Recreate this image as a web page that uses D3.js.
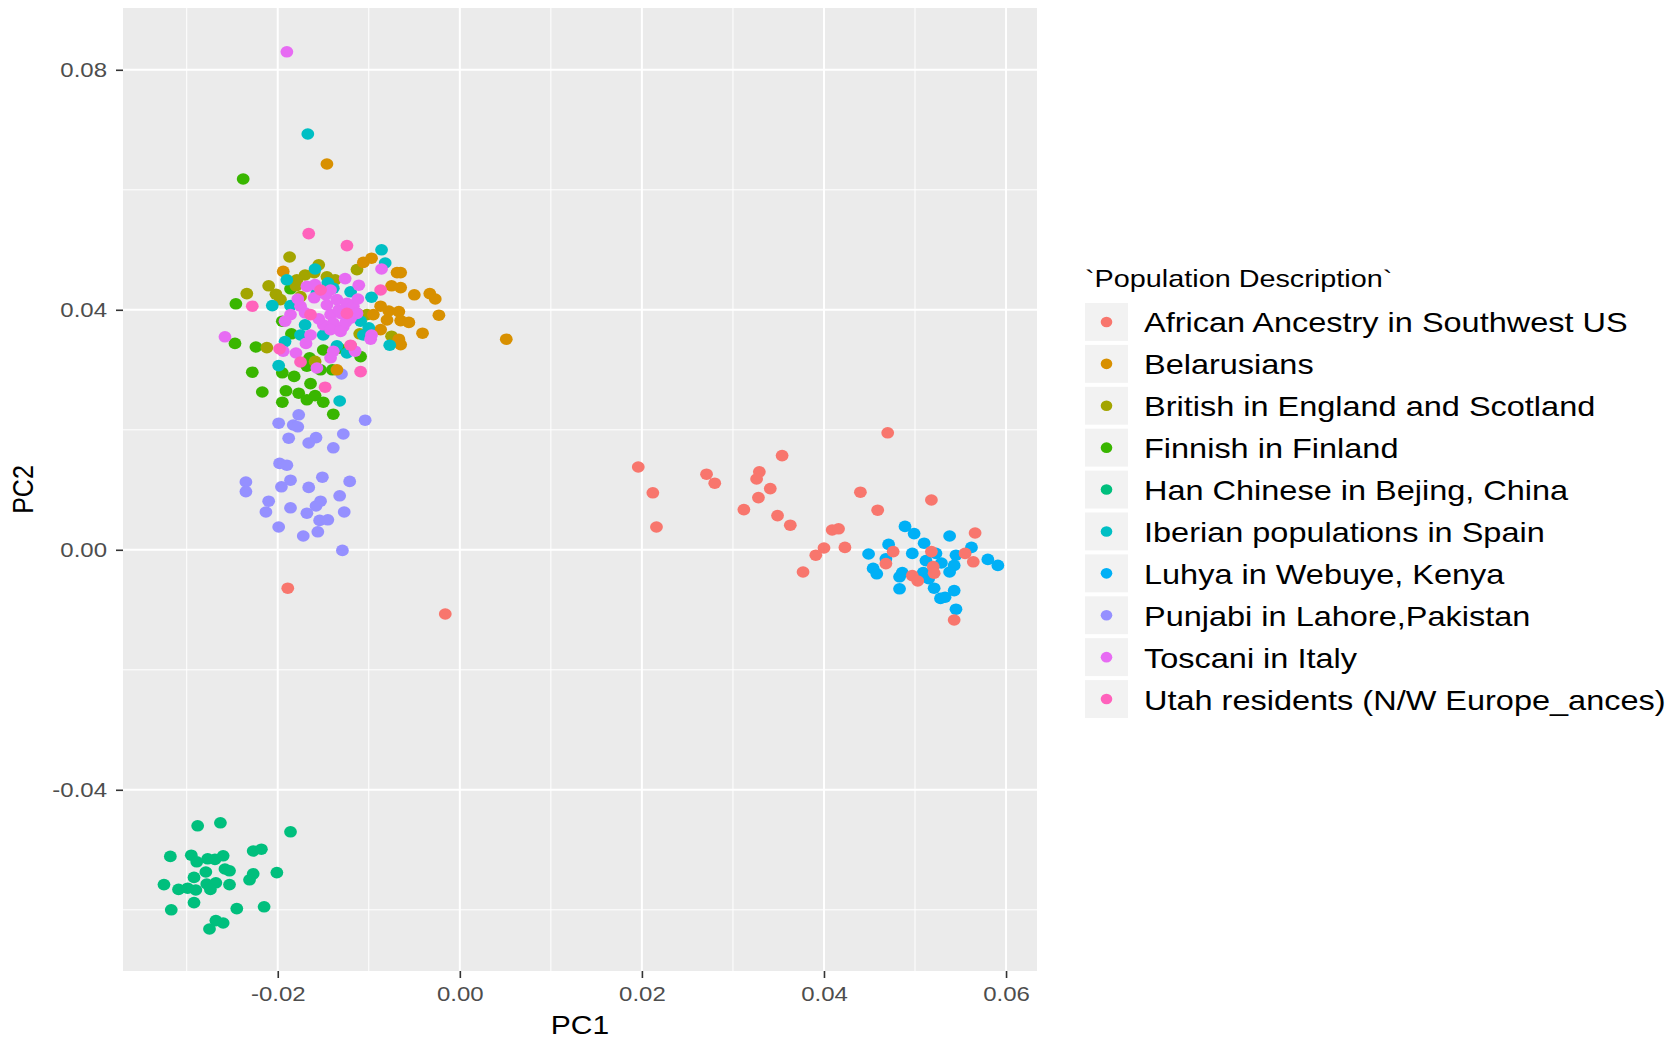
<!DOCTYPE html>
<html>
<head>
<meta charset="utf-8">
<script src="https://cdn.jsdelivr.net/npm/d3@7"></script>
<style>
body { margin: 0; background: #fff; }
text { font-family: "Liberation Sans", Arial, sans-serif; }
</style>
</head>
<body>
<div id="chart"></div>
<script>
// legend order
var populations = [
  "African Ancestry in Southwest US",
  "Belarusians",
  "British in England and Scotland",
  "Finnish in Finland",
  "Han Chinese in Bejing, China",
  "Iberian populations in Spain",
  "Luhya in Webuye, Kenya",
  "Punjabi in Lahore,Pakistan",
  "Toscani in Italy",
  "Utah residents (N/W Europe_ances)"
];
var colors = ["#F8766D", "#D89000", "#A3A500", "#39B600", "#00BF7D",
              "#00BFC4", "#00B0F6", "#9590FF", "#E76BF3", "#FF62BC"];

var xTicks = [-0.02, 0.00, 0.02, 0.04, 0.06];
var xMinor = [-0.03, -0.01, 0.01, 0.03, 0.05];
var yTicks = [-0.04, 0.00, 0.04, 0.08];
var yMinor = [-0.06, -0.02, 0.02, 0.06];

// [PC1, PC2] per sample
var african = [
  [0.0196, 0.0138], [0.0212, 0.0095], [0.0216, 0.0038], [0.0271, 0.0126], [0.0280, 0.0111],
  [0.0329, 0.0130], [0.0326, 0.0118], [0.0354, 0.0157], [0.0341, 0.0102], [0.0328, 0.0087],
  [0.0312, 0.0067], [0.0349, 0.0057], [0.0363, 0.0041], [0.0409, 0.0033], [0.0416, 0.0035],
  [0.0400, 0.0003], [0.0391, -0.0009], [0.0423, 0.0004], [0.0377, -0.0037], [0.0440, 0.0096],
  [0.0459, 0.0066], [0.0470, 0.0195], [0.0518, 0.0083], [0.0566, 0.0028], [0.0476, -0.0003],
  [0.0468, -0.0023], [0.0518, -0.0003], [0.0520, -0.0028], [0.0521, -0.0039], [0.0497, -0.0043],
  [0.0503, -0.0052], [0.0555, -0.0006], [0.0564, -0.0020], [0.0543, -0.0117], [-0.0016, -0.0107],
  [-0.0189, -0.0064]
];
var belarusians = [
  [-0.0146, 0.0643], [-0.0194, 0.0464], [-0.0106, 0.0479], [-0.0097, 0.0486], [-0.0069, 0.0462],
  [-0.0065, 0.0462], [-0.0075, 0.0440], [-0.0065, 0.0437], [-0.0050, 0.0425], [-0.0033, 0.0427],
  [-0.0027, 0.0418], [-0.0087, 0.0406], [-0.0078, 0.0398], [-0.0067, 0.0397], [-0.0023, 0.0391],
  [-0.0080, 0.0383], [-0.0065, 0.0382], [-0.0056, 0.0379], [-0.0087, 0.0367], [-0.0041, 0.0361],
  [-0.0067, 0.0351], [-0.0065, 0.0342], [-0.0135, 0.0300], [-0.0095, 0.0392], [0.0051, 0.0351]
];
var british = [
  [-0.0187, 0.0488], [-0.0113, 0.0467], [-0.0170, 0.0458], [-0.0179, 0.0450], [-0.0146, 0.0455],
  [-0.0137, 0.0450], [-0.0202, 0.0426], [-0.0197, 0.0417], [-0.0212, 0.0337], [-0.0102, 0.0392],
  [-0.0075, 0.0356], [-0.0159, 0.0314], [-0.0175, 0.0422], [-0.0113, 0.0394], [-0.0234, 0.0427],
  [-0.0160, 0.0462], [-0.0180, 0.0440], [-0.0120, 0.0340], [-0.0110, 0.0360], [-0.0210, 0.0440],
  [-0.0155, 0.0475]
];
var finnish = [
  [-0.0238, 0.0618], [-0.0246, 0.0410], [-0.0247, 0.0344], [-0.0224, 0.0338], [-0.0228, 0.0296],
  [-0.0217, 0.0263], [-0.0195, 0.0246], [-0.0191, 0.0265], [-0.0177, 0.0261], [-0.0168, 0.0250],
  [-0.0159, 0.0257], [-0.0150, 0.0246], [-0.0164, 0.0277], [-0.0182, 0.0289], [-0.0195, 0.0295],
  [-0.0139, 0.0226], [-0.0186, 0.0435], [-0.0195, 0.0381], [-0.0150, 0.0333], [-0.0109, 0.0322],
  [-0.0133, 0.0336], [-0.0168, 0.0306], [-0.0153, 0.0300], [-0.0185, 0.0360], [-0.0165, 0.0320],
  [-0.0140, 0.0300]
];
var han = [
  [-0.0288, -0.0460], [-0.0263, -0.0455], [-0.0186, -0.0470], [-0.0318, -0.0511], [-0.0295, -0.0509],
  [-0.0289, -0.0520], [-0.0277, -0.0515], [-0.0269, -0.0516], [-0.0260, -0.0510], [-0.0227, -0.0502],
  [-0.0218, -0.0499], [-0.0279, -0.0537], [-0.0258, -0.0532], [-0.0253, -0.0535], [-0.0227, -0.0540],
  [-0.0231, -0.0550], [-0.0201, -0.0538], [-0.0325, -0.0558], [-0.0292, -0.0546], [-0.0309, -0.0566],
  [-0.0299, -0.0564], [-0.0290, -0.0567], [-0.0278, -0.0557], [-0.0268, -0.0555], [-0.0274, -0.0566],
  [-0.0253, -0.0558], [-0.0317, -0.0600], [-0.0292, -0.0588], [-0.0245, -0.0598], [-0.0215, -0.0595],
  [-0.0268, -0.0618], [-0.0260, -0.0622], [-0.0275, -0.0632]
];
var iberian = [
  [-0.0167, 0.0693], [-0.0086, 0.0500], [-0.0082, 0.0478], [-0.0159, 0.0468], [-0.0206, 0.0407],
  [-0.0186, 0.0407], [-0.0097, 0.0421], [-0.0192, 0.0347], [-0.0199, 0.0307], [-0.0077, 0.0341],
  [-0.0132, 0.0248], [-0.0175, 0.0358], [-0.0150, 0.0358], [-0.0109, 0.0381], [-0.0106, 0.0358],
  [-0.0157, 0.0428], [-0.0139, 0.0436], [-0.0124, 0.0328], [-0.0145, 0.0445], [-0.0120, 0.0430],
  [-0.0170, 0.0375], [-0.0100, 0.0370], [-0.0135, 0.0340], [-0.0190, 0.0450]
];
var luhya = [
  [0.0489, 0.0039], [0.0499, 0.0027], [0.0510, 0.0011], [0.0538, 0.0023], [0.0471, 0.0009],
  [0.0449, -0.0007], [0.0497, -0.0006], [0.0523, -0.0006], [0.0545, -0.0009], [0.0562, 0.0004],
  [0.0580, -0.0016], [0.0591, -0.0026], [0.0468, -0.0015], [0.0454, -0.0031], [0.0458, -0.0040],
  [0.0512, -0.0018], [0.0529, -0.0022], [0.0543, -0.0026], [0.0538, -0.0037], [0.0486, -0.0038],
  [0.0483, -0.0045], [0.0509, -0.0038], [0.0515, -0.0048], [0.0483, -0.0065], [0.0521, -0.0064],
  [0.0543, -0.0068], [0.0528, -0.0081], [0.0533, -0.0079], [0.0545, -0.0099]
];
var punjabi = [
  [-0.0177, 0.0225], [-0.0199, 0.0211], [-0.0183, 0.0208], [-0.0178, 0.0205], [-0.0104, 0.0216],
  [-0.0188, 0.0186], [-0.0158, 0.0187], [-0.0166, 0.0178], [-0.0128, 0.0193], [-0.0139, 0.0170],
  [-0.0198, 0.0144], [-0.0190, 0.0141], [-0.0235, 0.0113], [-0.0235, 0.0097], [-0.0186, 0.0116],
  [-0.0196, 0.0105], [-0.0166, 0.0104], [-0.0151, 0.0121], [-0.0121, 0.0114], [-0.0210, 0.0081],
  [-0.0213, 0.0063], [-0.0186, 0.0070], [-0.0168, 0.0061], [-0.0158, 0.0073], [-0.0153, 0.0081],
  [-0.0132, 0.0090], [-0.0127, 0.0063], [-0.0199, 0.0038], [-0.0172, 0.0023], [-0.0156, 0.0030],
  [-0.0154, 0.0049], [-0.0145, 0.0050], [-0.0129, -0.0001], [-0.0130, 0.0293]
];
var toscani = [
  [-0.0190, 0.0830], [-0.0086, 0.0468], [-0.0258, 0.0355], [-0.0126, 0.0452], [-0.0111, 0.0441],
  [-0.0168, 0.0439], [-0.0159, 0.0442], [-0.0142, 0.0433], [-0.0175, 0.0406], [-0.0186, 0.0392],
  [-0.0192, 0.0381], [-0.0146, 0.0408], [-0.0135, 0.0417], [-0.0124, 0.0411], [-0.0117, 0.0406],
  [-0.0142, 0.0392], [-0.0131, 0.0394], [-0.0120, 0.0386], [-0.0113, 0.0394], [-0.0150, 0.0375],
  [-0.0139, 0.0378], [-0.0128, 0.0372], [-0.0142, 0.0367], [-0.0131, 0.0364], [-0.0097, 0.0358],
  [-0.0098, 0.0351], [-0.0164, 0.0358], [-0.0169, 0.0344], [-0.0194, 0.0331], [-0.0180, 0.0328],
  [-0.0139, 0.0331], [-0.0142, 0.0320], [-0.0115, 0.0331], [-0.0157, 0.0303], [-0.0160, 0.0420],
  [-0.0147, 0.0425], [-0.0133, 0.0400], [-0.0155, 0.0385], [-0.0125, 0.0380], [-0.0112, 0.0418],
  [-0.0170, 0.0395], [-0.0178, 0.0418]
];
var utah = [
  [-0.0166, 0.0527], [-0.0124, 0.0507], [-0.0228, 0.0406], [-0.0087, 0.0433], [-0.0109, 0.0297],
  [-0.0148, 0.0271], [-0.0175, 0.0313], [-0.0198, 0.0335], [-0.0120, 0.0341], [-0.0164, 0.0392],
  [-0.0124, 0.0394], [-0.0153, 0.0433]
];

var seriesData = [african, belarusians, british, finnish, han, iberian, luhya, punjabi, toscani, utah];
// order in which the groups were plotted (later on top)
var drawOrder = [6, 4, 7, 3, 2, 1, 5, 0, 8, 9];

var W = 1680, H = 1039;
var panel = { left: 123, right: 1037, top: 8, bottom: 971 };
var stretch = 1.2;   // glyphs in the source are slightly wide

var x = d3.scaleLinear().domain([-0.0370, 0.0634]).range([panel.left, panel.right]);
var y = d3.scaleLinear().domain([-0.0702, 0.0903]).range([panel.bottom, panel.top]);

var svg = d3.select("#chart").append("svg")
    .attr("width", W)
    .attr("height", H);

svg.append("rect")
    .attr("x", panel.left)
    .attr("y", panel.top)
    .attr("width", panel.right - panel.left)
    .attr("height", panel.bottom - panel.top)
    .attr("fill", "#EBEBEB");

var grid = svg.append("g");
grid.selectAll(".vminor").data(xMinor).enter().append("line")
    .attr("x1", d => x(d)).attr("x2", d => x(d))
    .attr("y1", panel.top).attr("y2", panel.bottom)
    .attr("stroke", "#fff").attr("stroke-width", 1);
grid.selectAll(".hminor").data(yMinor).enter().append("line")
    .attr("y1", d => y(d)).attr("y2", d => y(d))
    .attr("x1", panel.left).attr("x2", panel.right)
    .attr("stroke", "#fff").attr("stroke-width", 1);
grid.selectAll(".vmajor").data(xTicks).enter().append("line")
    .attr("x1", d => x(d)).attr("x2", d => x(d))
    .attr("y1", panel.top).attr("y2", panel.bottom)
    .attr("stroke", "#fff").attr("stroke-width", 2);
grid.selectAll(".hmajor").data(yTicks).enter().append("line")
    .attr("y1", d => y(d)).attr("y2", d => y(d))
    .attr("x1", panel.left).attr("x2", panel.right)
    .attr("stroke", "#fff").attr("stroke-width", 2);

// points
drawOrder.forEach(function(i) {
  svg.append("g").selectAll("ellipse")
    .data(seriesData[i])
    .enter()
    .append("ellipse")
    .attr("cx", d => x(d[0]))
    .attr("cy", d => y(d[1]))
    .attr("rx", 6.4)
    .attr("ry", 5.8)
    .attr("fill", colors[i]);
});

// axes
var fmt = d => d.toFixed(2);

var xAxis = svg.append("g")
    .attr("transform", "translate(0," + panel.bottom + ")")
    .call(d3.axisBottom(x).tickValues(xTicks).tickFormat(fmt).tickSize(7));
var yAxis = svg.append("g")
    .attr("transform", "translate(" + panel.left + ",0)")
    .call(d3.axisLeft(y).tickValues(yTicks).tickFormat(fmt).tickSize(7));

[xAxis, yAxis].forEach(function(ax) {
  ax.select(".domain").remove();
  ax.selectAll(".tick line").attr("stroke", "#333").attr("stroke-width", 1.6);
  ax.selectAll(".tick text")
    .attr("fill", "#4D4D4D")
    .style("font-size", "20px")
    .style("font-family", "'Liberation Sans', Arial, sans-serif");
});
xAxis.selectAll(".tick text")
    .attr("y", 0).attr("dy", "0.71em")
    .attr("transform", "translate(0,16) scale(" + stretch + ",1)");
yAxis.selectAll(".tick text")
    .attr("x", 0).attr("dy", "0.35em")
    .attr("transform", "translate(-16,0) scale(" + stretch + ",1)");

// axis titles
svg.append("text")
    .attr("transform", "translate(" + ((panel.left + panel.right) / 2) + ",1034) scale(" + stretch + ",1)")
    .attr("text-anchor", "middle")
    .style("font-size", "25px")
    .attr("fill", "#000")
    .text("PC1");
svg.append("text")
    .attr("transform", "translate(33," + ((panel.top + panel.bottom) / 2) + ") scale(" + stretch + ",1) rotate(-90)")
    .attr("text-anchor", "middle")
    .style("font-size", "25px")
    .attr("fill", "#000")
    .text("PC2");

// legend
var legend = svg.append("g").attr("transform", "translate(1085,0)");
legend.append("text")
    .attr("transform", "translate(0,286.5) scale(" + stretch + ",1)")
    .style("font-size", "24px")
    .attr("fill", "#000")
    .text("`Population Description`");

var keyY = d3.scaleBand().domain(d3.range(populations.length)).range([301, 720]);

var items = legend.selectAll(".item")
    .data(populations)
    .enter()
    .append("g")
    .attr("transform", (d, i) => "translate(0," + keyY(i) + ")");

items.append("rect")
    .attr("x", 0).attr("y", 2)
    .attr("width", 43).attr("height", keyY.bandwidth() - 4)
    .attr("fill", "#F2F2F2");
items.append("ellipse")
    .attr("cx", 21.5).attr("cy", keyY.bandwidth() / 2)
    .attr("rx", 5.8).attr("ry", 5.3)
    .attr("fill", (d, i) => colors[i]);
items.append("text")
    .attr("transform", "translate(59," + (keyY.bandwidth() / 2 + 10.5) + ") scale(1.16,1)")
    .style("font-size", "28px")
    .attr("fill", "#000")
    .text(d => d);
</script>
</body>
</html>
